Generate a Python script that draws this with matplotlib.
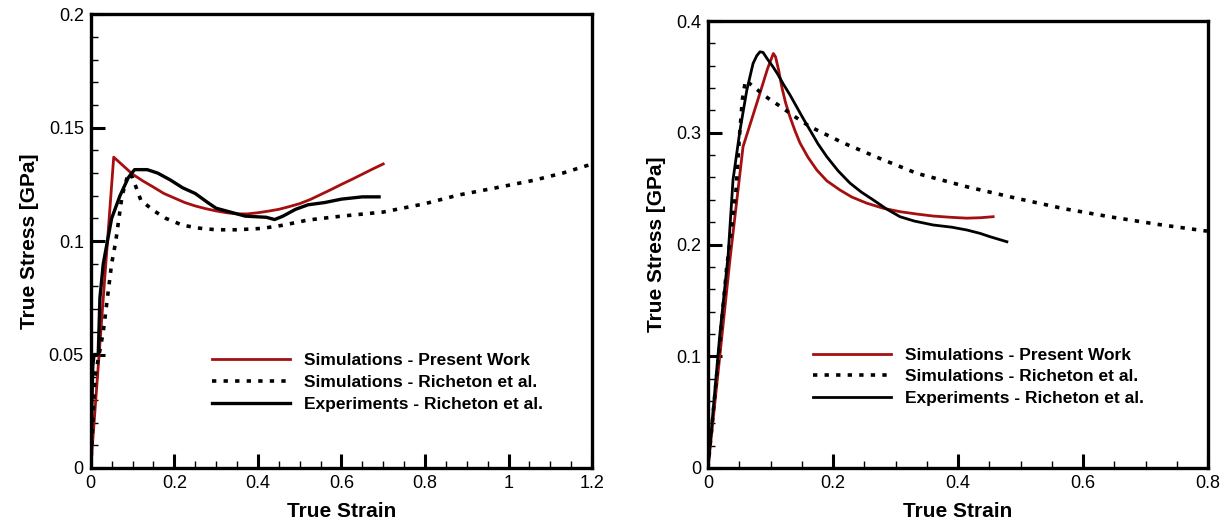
import numpy as np
import matplotlib.pyplot as plt
from matplotlib.ticker import MultipleLocator

# ==========================
# Data
# ==========================

# Left panel
left_red_x = [0, 0.055, 0.07, 0.085, 0.10, 0.125, 0.15, 0.175, 0.20, 0.225, 0.25, 0.275,
              0.30, 0.325, 0.35, 0.375, 0.40, 0.425, 0.45, 0.475, 0.50, 0.525, 0.55, 0.575,
              0.60, 0.625, 0.65, 0.675, 0.70]
left_red_y = [0, 0.137, 0.1345, 0.132, 0.1295, 0.1265, 0.1238, 0.121, 0.119, 0.117, 0.1155,
              0.1143, 0.1133, 0.1125, 0.112, 0.112, 0.1125, 0.1132, 0.114, 0.1152, 0.1165,
              0.1183, 0.1205, 0.1227, 0.125, 0.1272, 0.1295, 0.1318, 0.134]

left_dot_x = [0, 0.005, 0.01, 0.02, 0.03, 0.04, 0.05, 0.06, 0.075, 0.09, 0.10, 0.12, 0.15,
              0.18, 0.22, 0.26, 0.30, 0.35, 0.41, 0.46, 0.52, 0.60, 0.70, 0.80, 0.88, 0.97,
              1.06, 1.13, 1.20]
left_dot_y = [0, 0.02, 0.04, 0.05, 0.06, 0.075, 0.09, 0.10, 0.12, 0.130, 0.128, 0.118, 0.1135,
              0.110, 0.107, 0.1057, 0.105, 0.105, 0.1056, 0.107, 0.1093, 0.111, 0.1128,
              0.1165, 0.1203, 0.1235, 0.1268, 0.130, 0.134]

left_exp_x = [0, 0.003, 0.005, 0.008, 0.018, 0.022, 0.03, 0.04, 0.05, 0.07, 0.09, 0.105,
              0.135, 0.16, 0.19, 0.22, 0.25, 0.28, 0.30, 0.33, 0.37, 0.42, 0.44, 0.46, 0.49,
              0.52, 0.56, 0.60, 0.65, 0.69]
left_exp_y = [0, 0.03, 0.045, 0.05, 0.05, 0.075, 0.09, 0.10, 0.11, 0.12, 0.128, 0.1315,
              0.1315, 0.130, 0.127, 0.1235, 0.121, 0.117, 0.1145, 0.113, 0.111, 0.1105,
              0.1095, 0.111, 0.114, 0.116, 0.117, 0.1185, 0.1195, 0.1195]

# Right panel
right_red_x = [0, 0.035, 0.056, 0.08, 0.095, 0.1045, 0.108, 0.113, 0.118, 0.124, 0.131,
               0.139, 0.147, 0.16, 0.174, 0.19, 0.211, 0.23, 0.254, 0.28, 0.307, 0.335,
               0.36, 0.39, 0.414, 0.436, 0.456]
right_red_y = [0, 0.186, 0.2875, 0.33, 0.357, 0.371, 0.368, 0.356, 0.341, 0.327, 0.3144,
               0.302, 0.291, 0.278, 0.2667, 0.257, 0.2488, 0.2425, 0.237, 0.2325, 0.2294,
               0.2272, 0.2255, 0.2243, 0.2236, 0.224, 0.2249]

right_dot_x = [0, 0.01, 0.02, 0.03, 0.04, 0.045, 0.05, 0.055, 0.06, 0.08, 0.096, 0.112,
               0.14, 0.163, 0.216, 0.275, 0.334, 0.414, 0.494, 0.57, 0.642, 0.72, 0.798]
right_dot_y = [0, 0.06, 0.12, 0.18, 0.225, 0.25, 0.295, 0.33, 0.347, 0.338, 0.331, 0.325,
               0.314, 0.3055, 0.291, 0.277, 0.2637, 0.2517, 0.2413, 0.232, 0.2249, 0.218, 0.212]

right_exp_x = [0, 0.0096, 0.019, 0.032, 0.040, 0.0512, 0.062, 0.072, 0.078, 0.083, 0.088,
               0.095, 0.104, 0.112, 0.12, 0.131, 0.142, 0.152, 0.163, 0.176, 0.19, 0.208,
               0.227, 0.245, 0.264, 0.285, 0.307, 0.33, 0.36, 0.39, 0.414, 0.435, 0.451, 0.478]
right_exp_y = [0, 0.061, 0.12, 0.189, 0.258, 0.3025, 0.338, 0.362, 0.369, 0.3725, 0.372,
               0.366, 0.359, 0.352, 0.344, 0.334, 0.323, 0.313, 0.3025, 0.290, 0.2786, 0.266,
               0.255, 0.247, 0.240, 0.232, 0.2249, 0.221, 0.2175, 0.2155, 0.213, 0.210,
               0.207, 0.2025]

labels = ['Simulations - Present Work',
          'Simulations - Richeton et al.',
          'Experiments - Richeton et al.']

# ==========================
# Plot Styling
# ==========================

plt.rcParams['font.family'] = ['Liberation Sans', 'DejaVu Sans']

red = '#a50f0f'
fig = plt.figure(figsize=(12.26, 5.27), dpi=100)
ax1 = fig.add_axes([0.074, 0.112, 0.409, 0.861])
ax2 = fig.add_axes([0.5775, 0.112, 0.408, 0.848])


def style_axes(ax, xmax, ymax, xmaj, xmin, ymaj, ymin):
    ax.set_xlim(0, xmax)
    ax.set_ylim(0, ymax)
    ax.xaxis.set_major_locator(MultipleLocator(xmaj))
    ax.xaxis.set_minor_locator(MultipleLocator(xmin))
    ax.yaxis.set_major_locator(MultipleLocator(ymaj))
    ax.yaxis.set_minor_locator(MultipleLocator(ymin))
    ax.xaxis.set_major_formatter(lambda v, p: f'{v:g}')
    ax.yaxis.set_major_formatter(lambda v, p: f'{v:g}')
    for sp in ax.spines.values():
        sp.set_linewidth(2.4)
    ax.tick_params(which='major', direction='in', length=10, width=2.2,
                   labelsize=13, pad=5)
    ax.tick_params(which='minor', direction='in', length=5, width=1.0)
    ax.set_xlabel('True Strain', fontsize=15, fontweight='bold', labelpad=7)
    ax.set_ylabel('True Stress [GPa]', fontsize=15, fontweight='bold', labelpad=7)


legend_kw = dict(loc='upper left', frameon=False, handlelength=4.5, handletextpad=0.8,
                 labelspacing=0.37, borderaxespad=0.0,
                 prop={'weight': 'bold', 'size': 12.5})

# Left panel
ax1.plot(left_red_x, left_red_y, color=red, linewidth=2.0, label=labels[0])
ax1.plot(left_dot_x, left_dot_y, color='black', linewidth=2.6,
         linestyle=(0, (1.2, 2.0)), label=labels[1])
ax1.plot(left_exp_x, left_exp_y, color='black', linewidth=2.4, label=labels[2])
style_axes(ax1, 1.2, 0.2, 0.2, 0.05, 0.05, 0.01)
ax1.legend(bbox_to_anchor=(0.228, 0.268), **legend_kw)

# Right panel
ax2.plot(right_red_x, right_red_y, color=red, linewidth=2.0, label=labels[0])
ax2.plot(right_dot_x, right_dot_y, color='black', linewidth=2.6,
         linestyle=(0, (1.2, 2.0)), label=labels[1])
ax2.plot(right_exp_x, right_exp_y, color='black', linewidth=2.0, label=labels[2])
style_axes(ax2, 0.8, 0.4, 0.2, 0.05, 0.1, 0.02)
ax2.legend(bbox_to_anchor=(0.196, 0.285), **legend_kw)

plt.savefig('out.png', dpi=100)
